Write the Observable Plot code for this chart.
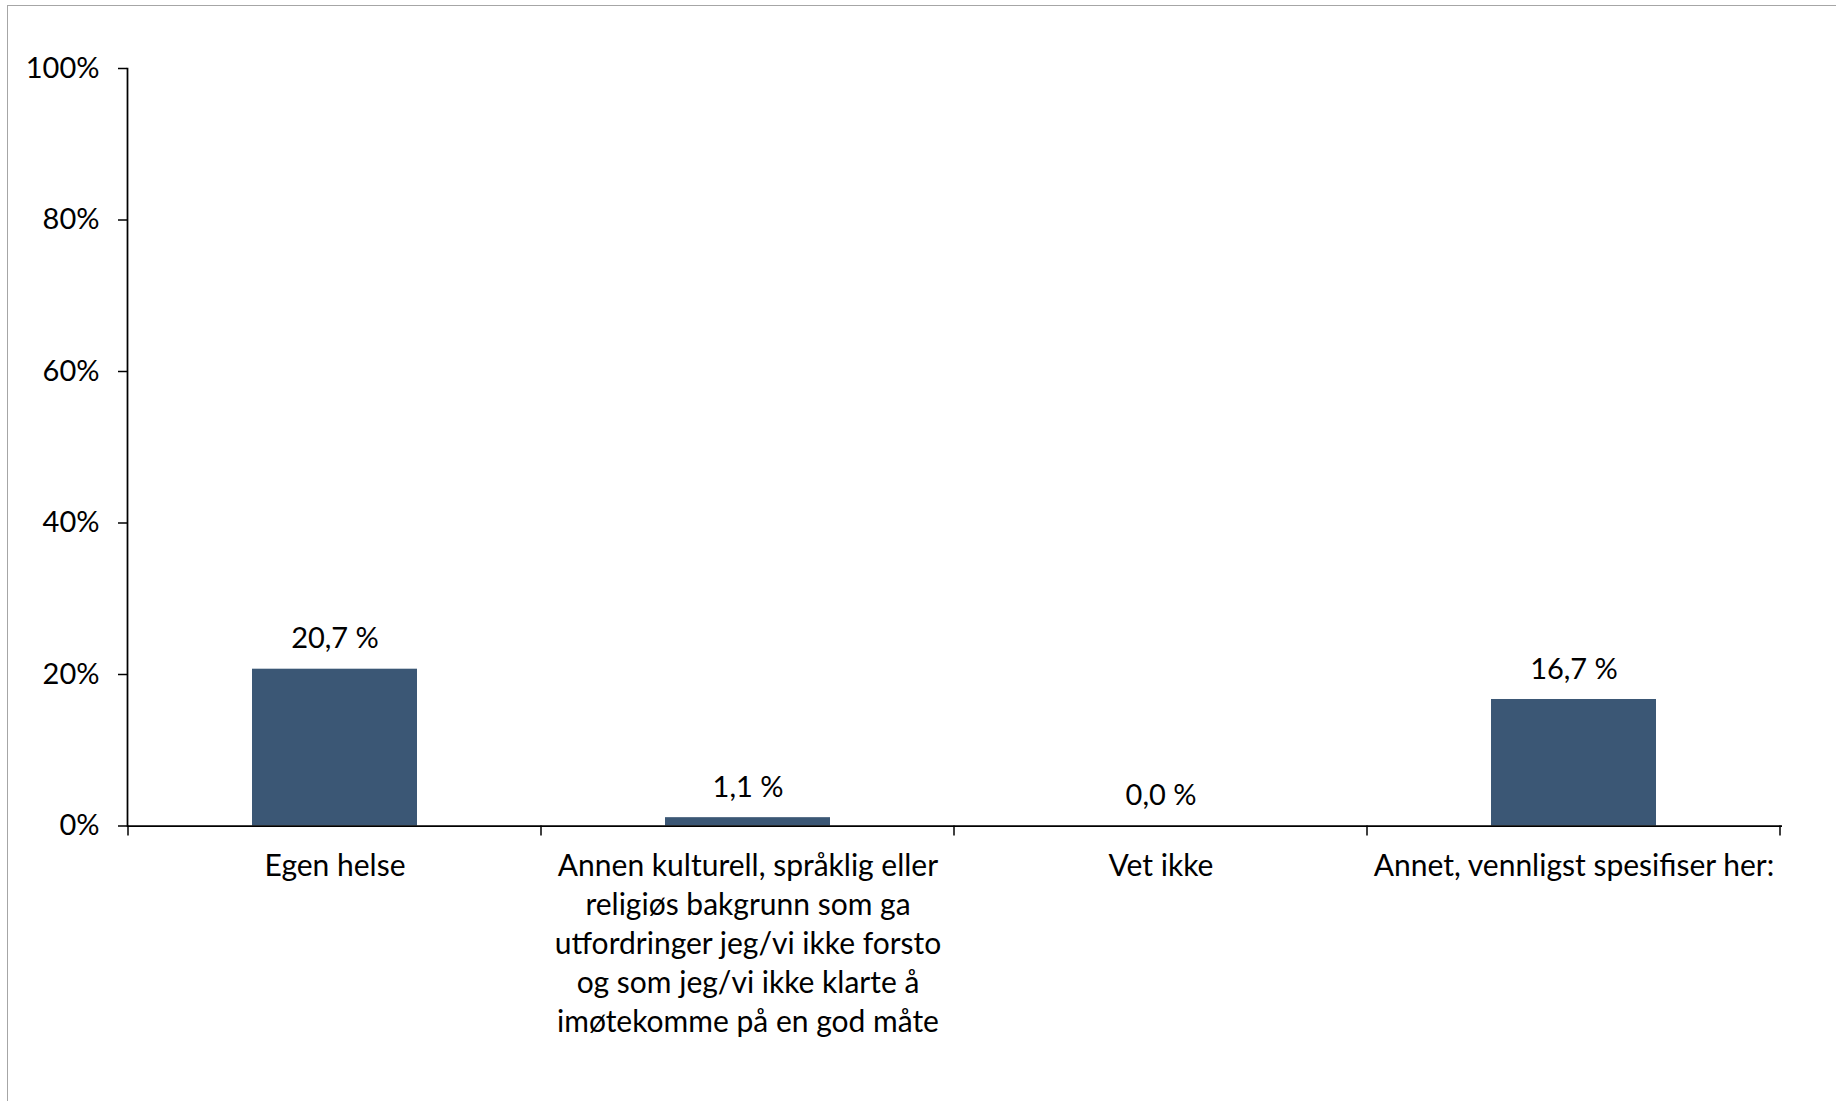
<!DOCTYPE html>
<html><head><meta charset="utf-8">
<script src="https://cdn.jsdelivr.net/npm/d3@7"></script>
<script src="https://cdn.jsdelivr.net/npm/@observablehq/plot@0.6"></script>
<style>
html,body{margin:0;padding:0;background:#fff;overflow:hidden;}
#wrap{position:relative;width:1836px;height:1101px;overflow:hidden;}
#border{position:absolute;left:7px;top:5px;width:1900px;height:1200px;border-top:1px solid #a6a6a6;border-left:1px solid #a6a6a6;pointer-events:none;}
#chart svg{display:block;}
</style></head><body>
<div id="wrap"><div id="chart"></div><div id="border"></div></div>
<script>
const categories = [
  "Egen helse",
  "Annen kulturell, språklig eller\nreligiøs bakgrunn som ga\nutfordringer jeg/vi ikke forsto\nog som jeg/vi ikke klarte å\nimøtekomme på en god måte",
  "Vet ikke",
  "Annet, vennligst spesifiser her:"
];
const values = [20.7, 1.1, 0.0, 16.7];
const yTicks = [0, 20, 40, 60, 80, 100];
const barColor = "#3b5775";

const data = categories.map((c, i) => ({category: c, value: values[i]}));

function boundaryTicks(index, scales) {
  const x = scales.x, y = scales.y;
  const step = x.step(), bw = x.bandwidth(), off = (step - bw) / 2;
  const edges = categories.map(c => x(c) - off).concat([x(categories[categories.length - 1]) + bw + off]);
  const g = d3.create("svg:g").attr("stroke", "#000").attr("stroke-width", 1.5);
  const y0 = y(0);
  for (const e of edges) g.append("line").attr("x1", e).attr("x2", e).attr("y1", y0).attr("y2", y0 + 10);
  return g.node();
}

const chart = Plot.plot({
  width: 1836,
  height: 1101,
  marginLeft: 127,
  marginRight: 54,
  marginTop: 68,
  marginBottom: 275.5,
  style: {fontFamily: "Lato, 'Noto Sans', sans-serif", fontSize: "29px", color: "#000", background: "#fff"},
  x: {domain: categories, paddingInner: 0.6, paddingOuter: 0.3, label: null},
  y: {domain: [0, 100], label: null},
  marks: [
    Plot.barY(data, {x: "category", y: "value", fill: barColor}),
    Plot.ruleY([0], {stroke: "#000", strokeWidth: 1.75}),
    Plot.frame({anchor: "left", stroke: "#000", strokeWidth: 1.75}),
    boundaryTicks,
    Plot.text(data, {
      x: "category", y: "value",
      text: d => d.value.toFixed(1).replace(".", ",") + " %",
      dy: -30, fontSize: 29, fill: "#000"
    }),
    Plot.axisY({ticks: yTicks, tickFormat: d => d + "%", tickSize: 9, tickPadding: 19, strokeWidth: 1.5, fontSize: 29, stroke: "#000"}),
    Plot.axisX({tickSize: 0, tickPadding: 22, lineHeight: 1.3, fontSize: 30})
  ]
});
document.getElementById("chart").appendChild(chart);
</script>
</body></html>
